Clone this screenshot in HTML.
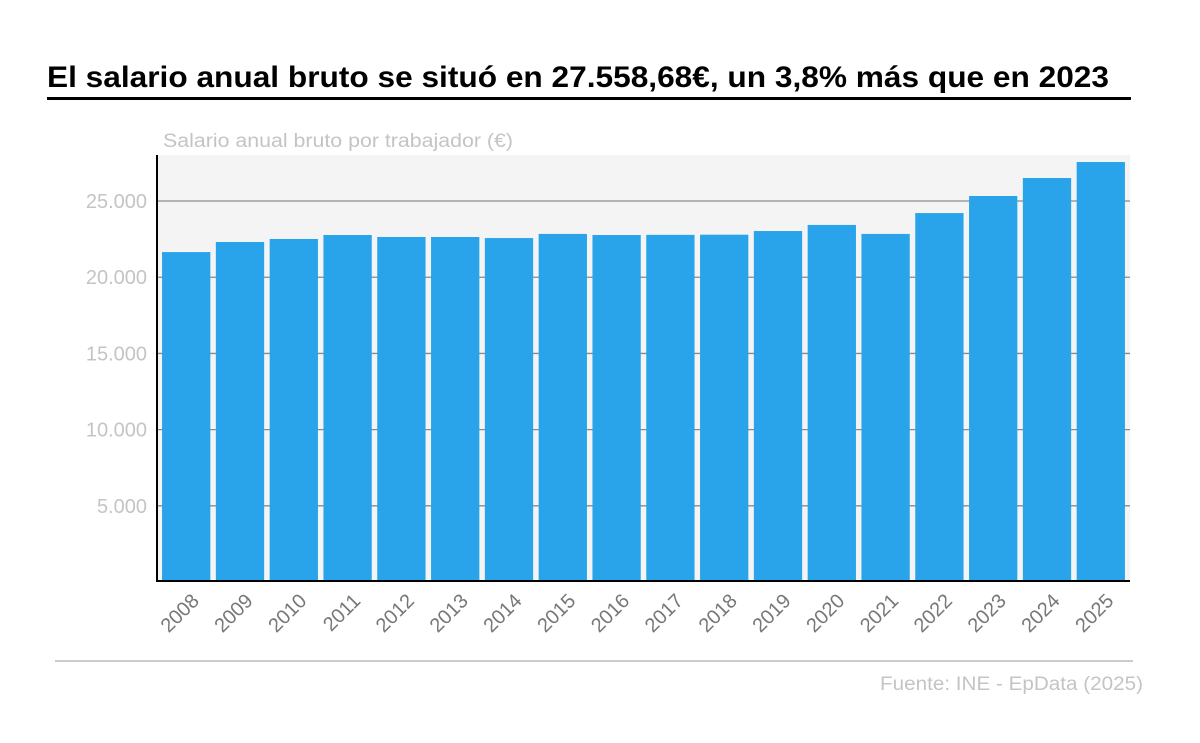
<!DOCTYPE html>
<html><head><meta charset="utf-8"><style>
body{margin:0;background:#fff;font-family:"Liberation Sans",sans-serif;}
</style></head><body>
<svg width="1200" height="743" xmlns="http://www.w3.org/2000/svg" id="svg" style="display:block">
<text x="47" y="87" font-size="30" font-weight="bold" fill="#000" textLength="1062" lengthAdjust="spacingAndGlyphs">El salario anual bruto se situó en 27.558,68€, un 3,8% más que en 2023</text>
<rect x="47" y="97" width="1084" height="3" fill="#000"/>
<text x="163" y="147" font-size="19" fill="#c4c4c4" textLength="350" lengthAdjust="spacingAndGlyphs">Salario anual bruto por trabajador (€)</text>
<rect x="157" y="155" width="973" height="427" fill="#f4f4f4"/>
<g id="grid"></g><g id="bars"></g><g id="xlabels"></g>
<line x1="157" y1="155" x2="157" y2="582" stroke="#000" stroke-width="2"/>
<line x1="156" y1="581" x2="1130" y2="581" stroke="#000" stroke-width="2"/>
<line x1="55" y1="661" x2="1133" y2="661" stroke="#999" stroke-width="1"/>
<text x="1143" y="690" font-size="19" fill="#c4c4c4" text-anchor="end" textLength="263" lengthAdjust="spacingAndGlyphs">Fuente: INE - EpData (2025)</text>
</svg>
<script>
const years=["2008","2009","2010","2011","2012","2013","2014","2015","2016","2017","2018","2019","2020","2021","2022","2023","2024","2025"];
const salaries=[21650,22310,22510,22770,22640,22640,22570,22840,22770,22780,22790,23030,23430,22840,24210,25330,26510,27559];
const yTicks=[5000,10000,15000,20000,25000];
const yTickLabels=["5.000","10.000","15.000","20.000","25.000"];
const NS="http://www.w3.org/2000/svg";
const x0=159.3,x1=1127.7,yBase=582,yMax=28020,yTop=155;
const y=v=>yBase-(v/yMax)*(yBase-yTop);
const step=(x1-x0)/years.length;
const xc=i=>x0+step*(i+0.5);
function mk(t,a){const e=document.createElementNS(NS,t);for(const k in a)e.setAttribute(k,a[k]);return e;}
const grid=document.getElementById('grid');
yTicks.forEach((v,i)=>{
 const l=mk('line',{x1:157,x2:1130,y1:y(v),y2:y(v),stroke:'#8a8a8a','stroke-width':1.3});
 
 
 grid.appendChild(l);
 const t=mk('text',{x:147,y:y(v)+7,'font-size':20,fill:'#c4c4c4','text-anchor':'end'});
 t.textContent=yTickLabels[i];
 
 
 grid.appendChild(t);
});
const bars=document.getElementById('bars'),xl=document.getElementById('xlabels');
years.forEach((yr,i)=>{
 const w=step-5.5;
 const r=mk('rect',{x:xc(i)-w/2,y:y(salaries[i]),width:w,height:yBase-y(salaries[i]),fill:'#29a3ea'});
 
 
 bars.appendChild(r);
 const cx=xc(i)+14,cy=602;
 const t=mk('text',{x:cx,y:cy,'font-size':20,fill:'#777','text-anchor':'end',transform:`rotate(-45 ${cx} ${cy})`});
 t.textContent=yr;
 
 
 xl.appendChild(t);
});
</script>
</body></html>
